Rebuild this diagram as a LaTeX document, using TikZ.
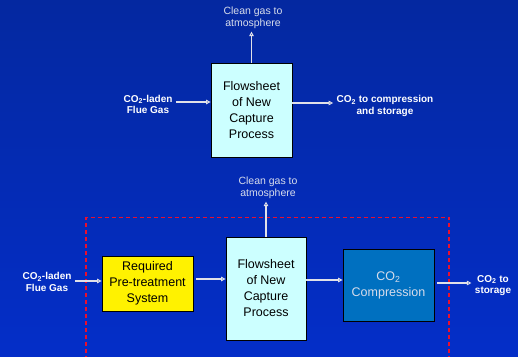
\documentclass[tikz,border=0pt]{standalone}
\usepackage{fontspec}
\setmainfont{Liberation Sans}
\usetikzlibrary{arrows.meta,positioning}
\definecolor{bgtop}{RGB}{4,40,160}
\definecolor{bgbot}{RGB}{4,46,200}
\definecolor{capfill}{RGB}{204,255,255}
\definecolor{compfill}{RGB}{0,112,192}
\definecolor{arrowgray}{RGB}{225,225,232}
\definecolor{labelgray}{RGB}{215,220,235}
\definecolor{frame}{RGB}{235,15,45}

\tikzset{
  procbox/.style={draw=black,line width=0.8pt,align=center,inner sep=2pt,
    font=\fontsize{12.5}{16}\selectfont},
  streamlabel/.style={text=white,align=center,font=\fontsize{10}{11.5}\selectfont\bfseries},
  ventlabel/.style={text=labelgray,align=center,font=\fontsize{10.5}{12}\selectfont},
  flow/.style={draw=arrowgray,line width=1.6pt,-{Triangle[open,length=4.5pt,width=4.5pt,line width=1pt]}},
  boundary/.style={draw=frame,line width=1.3pt,dash pattern=on 4pt off 3pt}
}

\begin{document}
\begin{tikzpicture}[x=1pt,y=-1pt]
		\shade [top color=bgtop, bottom color=bgbot] (0,0) rectangle (518,356);
		\useasboundingbox (0,0) rectangle (518,356);
		
		% upper flowsheet
		\node [procbox, fill=capfill, minimum width=81pt, minimum height=94pt] (cap1) at (251.5,110) {Flowsheet\\of New\\Capture\\Process};
		\node [ventlabel] (vent1) at (253,18) {Clean gas to\\atmosphere};
		\node [streamlabel] (feed1) at (148,104.5) {CO\textsubscript{2}-laden\\Flue Gas};
		\node [streamlabel] (prod1) at (385,106) {CO\textsubscript{2} to compression\\and storage};
		
		\draw [flow] (cap1.north) -- ++(0,-31);
		\draw [flow] (feed1.east |- 0,102) -- (cap1.west |- 0,102);
		\draw [flow] (cap1.east |- 0,103) -- (prod1.west |- 0,103);
		
		% lower flowsheet with pre-treatment and compression
		\draw [boundary] (86,360) -- (86,217.5) -- (449,217.5) -- (449,360);
		
		\node [procbox, fill=yellow, minimum width=91pt, minimum height=55pt] (pretreat) at (147.5,283.5) {Required\\Pre-treatment\\System};
		\node [procbox, fill=capfill, minimum width=80pt, minimum height=103pt] (cap2) at (266,288.5) {Flowsheet\\of New\\Capture\\Process};
		\node [procbox, fill=compfill, text=labelgray, minimum width=91pt, minimum height=72pt] (comp) at (388.5,285) {CO\textsubscript{2}\\Compression};
		\node [ventlabel] (vent2) at (268,187.5) {Clean gas to\\atmosphere};
		\node [streamlabel] (feed2) at (47,282) {CO\textsubscript{2}-laden\\Flue Gas};
		\node [streamlabel] (prod2) at (493,285.5) {CO\textsubscript{2} to\\storage};
		
		\draw [flow] (cap2.north) -- ++(0,-35);
		\draw [flow] (feed2.east |- 0,281) -- (pretreat.west |- 0,281);
		\draw [flow] ([xshift=3pt]pretreat.east |- 0,279) -- (cap2.west |- 0,279);
		\draw [flow] (cap2.east |- 0,280) -- (comp.west |- 0,280);
		\draw [flow] ([xshift=3pt]comp.east |- 0,283) -- (prod2.west |- 0,283);
\end{tikzpicture}
\end{document}
